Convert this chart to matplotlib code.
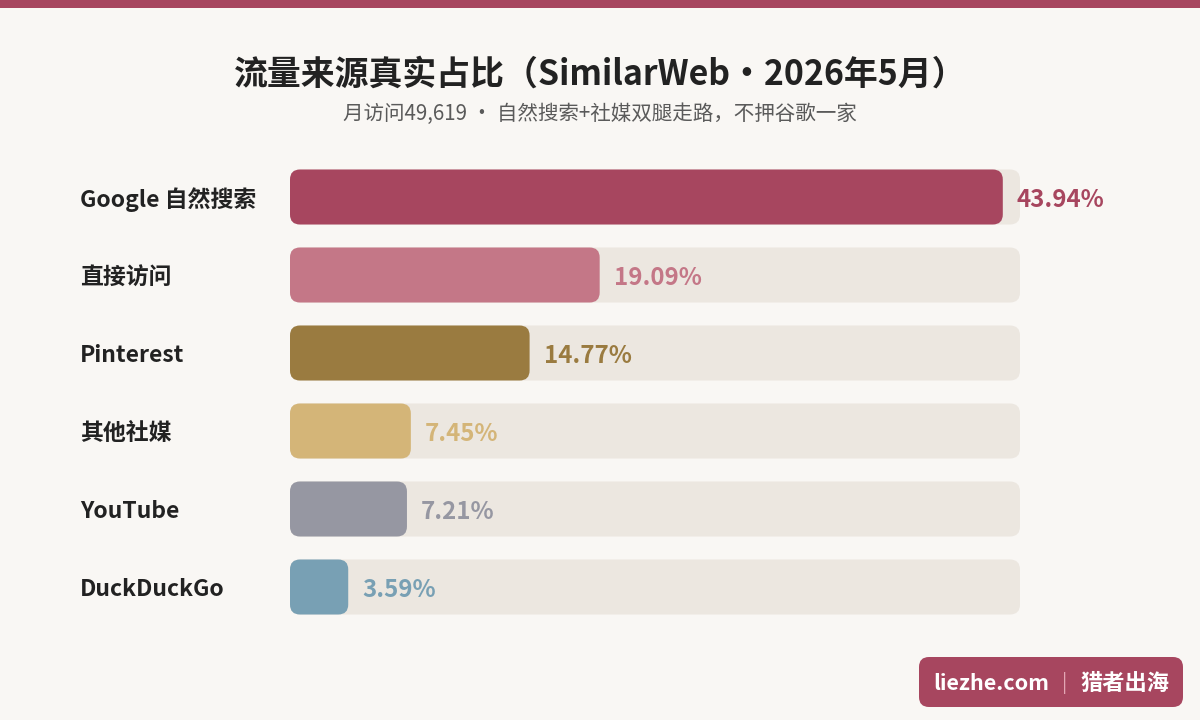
import matplotlib
matplotlib.use("Agg")
import matplotlib.pyplot as plt
from matplotlib.patches import FancyBboxPatch, Rectangle
import matplotlib.transforms as mtransforms

plt.rcParams['font.family'] = ['Noto Sans CJK SC', 'DejaVu Sans']

categories = ["Google 自然搜索", "直接访问", "Pinterest", "其他社媒", "YouTube", "DuckDuckGo"]
values = [43.94, 19.09, 14.77, 7.45, 7.21, 3.59]
colors = ["#a7465f", "#c47787", "#9a7b40", "#d4b578", "#9697a2", "#78a0b4"]
track_max = 45
title = "流量来源真实占比（SimilarWeb·2026年5月）"
subtitle = "月访问49,619 · 自然搜索+社媒双腿走路，不押谷歌一家"

W, H = 1200, 720
fig = plt.figure(figsize=(12, 7.2), dpi=100)
fig.patch.set_facecolor("#f9f7f4")

# top stripe
fig.patches.append(Rectangle((0, 1 - 8 / H), 1, 8 / H, transform=fig.transFigure,
                             facecolor="#a7465f", edgecolor="none"))

fig.text(0.5, 1 - 74 / H, title, ha="center", va="center", fontsize=24.4,
         fontweight="bold", color="#222222")
fig.text(0.5, 1 - 114 / H, subtitle, ha="center", va="center", fontsize=14.8,
         color="#5a5a5a")

# axes: x from 290px to 1020px ; y rows centred 197..587px
top_px, bot_px = 158, 626
ax = fig.add_axes([290 / W, 1 - bot_px / H, 730 / W, (bot_px - top_px) / H])
ax.set_xlim(0, track_max)
ax.set_ylim(len(categories) - 0.5, -0.5)
ax.axis("off")

px_x = 730 / track_max   # px per x unit
px_y = (bot_px - top_px) / len(categories)  # px per y unit
bar_h = 55 / px_y
rad = 10 / px_x
aspect = px_x / px_y

down = mtransforms.ScaledTranslation(0, -3 / 100, fig.dpi_scale_trans)
ytrans = mtransforms.blended_transform_factory(fig.transFigure, ax.transData) + down

for i, (cat, v, c) in enumerate(zip(categories, values, colors)):
    ax.add_patch(FancyBboxPatch((0, i - bar_h / 2), track_max, bar_h,
                                boxstyle=f"round,pad=0,rounding_size={rad}",
                                mutation_aspect=aspect, facecolor="#ece7e0",
                                edgecolor="none", zorder=1))
    ax.add_patch(FancyBboxPatch((0, i - bar_h / 2), v, bar_h,
                                boxstyle=f"round,pad=0,rounding_size={rad}",
                                mutation_aspect=aspect, facecolor=c,
                                edgecolor="none", zorder=2))
    fig.text(80 / W, i, cat, transform=ytrans, ha="left", va="center",
             fontsize=16.5, fontweight="bold", color="#222222")
    ax.annotate(f"{v:.2f}%", xy=(v, i), xytext=(14 * 72 / 100, -3 * 72 / 100),
                textcoords="offset points", ha="left", va="center",
                fontsize=17.3, fontweight="bold", color=c, zorder=3,
                annotation_clip=False)

# watermark
bx0, by0, bx1, by1 = 919, 657, 1183, 707
fig.patches.append(FancyBboxPatch((bx0 / W, 1 - by1 / H), (bx1 - bx0) / W, (by1 - by0) / H,
                                  boxstyle=f"round,pad=0,rounding_size={10 / W}",
                                  mutation_aspect=W / H, transform=fig.transFigure,
                                  facecolor="#a7465f", edgecolor="none"))
cy = 1 - 683 / H
fig.text(933 / W, cy, "liezhe.com", ha="left", va="center", fontsize=15.5,
         fontweight="bold", color="white")
fig.text(1065 / W, cy, "|", ha="center", va="center", fontsize=14,
         color="#e3a6b4")
fig.text(1081 / W, cy, "猎者出海", ha="left", va="center", fontsize=16,
         fontweight="bold", color="white")

fig.savefig("out.png", dpi=100, facecolor=fig.get_facecolor())
